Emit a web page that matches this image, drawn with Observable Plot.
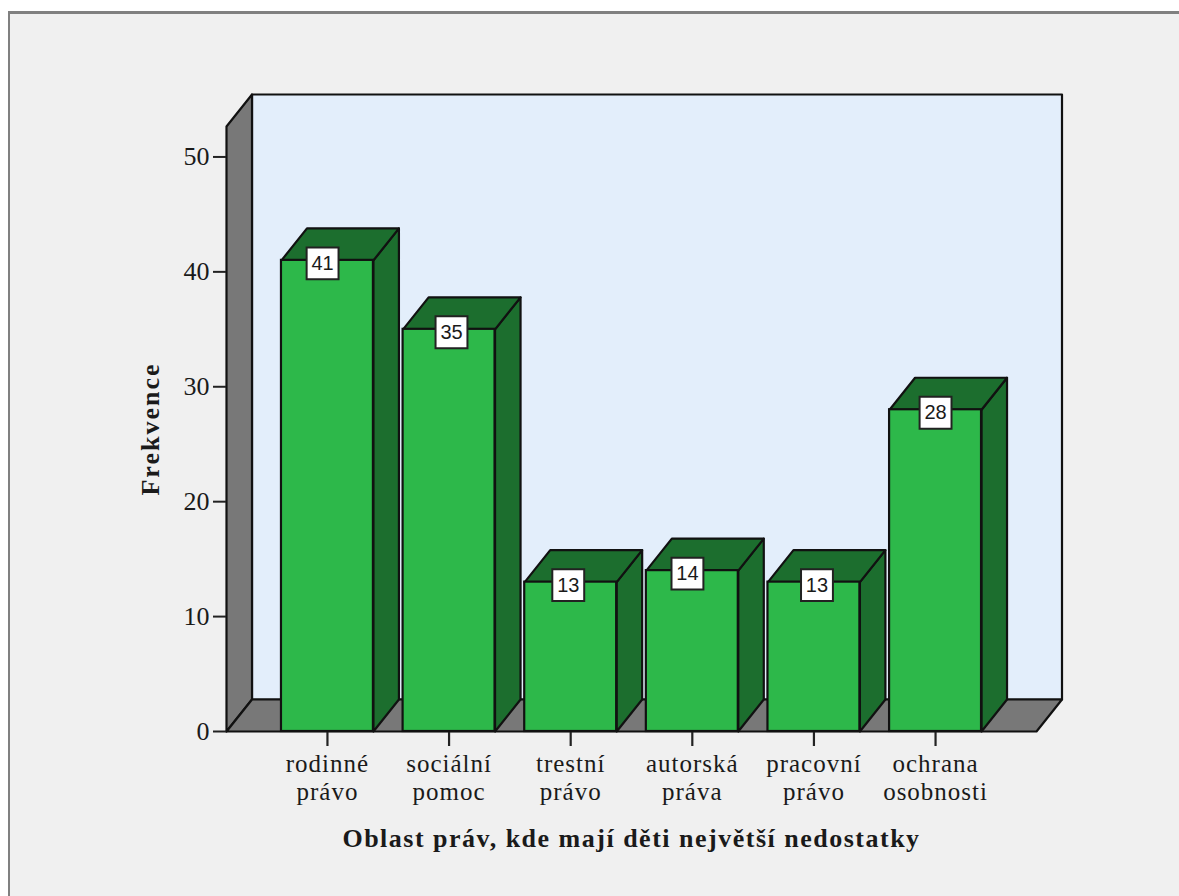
<!DOCTYPE html>
<html lang="cs">
<head>
<meta charset="utf-8">
<script src="https://cdn.jsdelivr.net/npm/d3@7"></script>
<script src="https://cdn.jsdelivr.net/npm/@observablehq/plot@0.6"></script>
<style>
  html, body { margin: 0; padding: 0; background: #fff; overflow: hidden; }
  #panel { position: absolute; left: 8px; top: 11px; width: 1171px; height: 885px; box-sizing: border-box;
           background: #f0f0f0; border-top: 3px solid #808080; border-left: 2px solid #808080; }
  #chart { position: absolute; left: 0; top: 0; }
  #chart svg { background: transparent; display: block; }
  g[aria-label="x-axis tick label"] text { letter-spacing: 1px; }
  g[aria-label="x-axis label"] text { letter-spacing: 1.5px; }
  g[aria-label="y-axis label"] text { letter-spacing: 2px; }
</style>
</head>
<body>
<div id="panel"></div>
<div id="chart"></div>
<script>
const categories = ["rodinné\nprávo", "sociální\npomoc", "trestní\nprávo", "autorská\npráva", "pracovní\nprávo", "ochrana\nosobnosti"];
const frequencies = [41, 35, 13, 14, 13, 28];
const yTicks = [0, 10, 20, 30, 40, 50];
const labelShift = [-0.04, 0.02, -0.02, -0.04, 0.025, 0];

const xMin = -0.83, xMax = 5.83, yMax = 52.65;
const depthX = 25.5 / 121.6, depthY = 32 / 11.49, half = 0.378;

const bars = frequencies.map((v, i) => ({i, v}));
const poly = (pts, z) => pts.map(([x, y]) => ({x, y, z}));

const leftWall = poly([[xMin,0],[xMin,yMax],[xMin+depthX,yMax+depthY],[xMin+depthX,depthY],[xMin,0]], "l");
const floor = poly([[xMin,0],[xMax,0],[xMax+depthX,depthY],[xMin+depthX,depthY],[xMin,0]], "f");
const backWall = poly([[xMin+depthX,depthY],[xMin+depthX,yMax+depthY],[xMax+depthX,yMax+depthY],[xMax+depthX,depthY],[xMin+depthX,depthY]], "b");

const tops = bars.flatMap(({i, v}) => poly([[i-half,v],[i+half,v],[i+half+depthX,v+depthY],[i-half+depthX,v+depthY],[i-half,v]], "t"+i));
const sides = bars.flatMap(({i, v}) => poly([[i+half,0],[i+half,v],[i+half+depthX,v+depthY],[i+half+depthX,depthY],[i+half,0]], "s"+i));

const ink = "#111";
const face = (data, fill) => Plot.line(data, {x: "x", y: "y", z: "z", fill, stroke: ink, strokeWidth: 2.2, strokeLinejoin: "round", curve: "linear"});

const chart = Plot.plot({
  width: 1179, height: 896,
  marginLeft: 226, marginRight: 143, marginTop: 126, marginBottom: 165,
  style: {fontFamily: "'Liberation Serif', serif", color: "#1a1a1a", background: "transparent", overflow: "visible"},
  x: {type: "linear", domain: [xMin, xMax]},
  y: {domain: [0, yMax]},
  marks: [
    face(backWall, "#e3eefb"),
    face(leftWall, "#787878"),
    face(floor, "#787878"),
    Plot.axisY({
      ticks: yTicks, tickSize: 13, tickPadding: 4, fontSize: 26, strokeWidth: 2, stroke: "#222",
      label: "Frekvence", labelAnchor: "center", labelArrow: "none", labelOffset: 86
    }),
    Plot.axisX({
      ticks: d3.range(categories.length), tickFormat: i => categories[i],
      tickSize: 15, tickPadding: 6, fontSize: 25, lineHeight: 1.12, strokeWidth: 2.2, stroke: "#222",
      label: "Oblast práv, kde mají děti největší nedostatky", labelAnchor: "center", labelArrow: "none", labelOffset: 115
    }),
    face(sides, "#1c6e2e"),
    face(tops, "#1c6e2e"),
    Plot.rect(bars, {x1: d => d.i - half, x2: d => d.i + half, y1: 0, y2: "v", fill: "#2db84a", stroke: ink, strokeWidth: 2.2}),
    Plot.dot(bars, {x: d => d.i + labelShift[d.i], y: "v", dy: 3, symbol: "square", r: 18, fill: "#fff", stroke: "#222", strokeWidth: 2}),
    Plot.text(bars, {x: d => d.i + labelShift[d.i], y: "v", dy: 3, text: d => String(d.v), fontFamily: "'Liberation Sans', sans-serif", fontSize: 20, fill: "#1a1a1a"})
  ]
});

document.querySelector("#chart").append(chart);
for (const [lab, size] of [["x-axis label", 26], ["y-axis label", 26]]) {
  const g = chart.querySelector(`g[aria-label="${lab}"]`);
  if (g) { g.setAttribute("font-size", size); g.setAttribute("font-weight", "bold"); }
}
</script>
</body>
</html>
